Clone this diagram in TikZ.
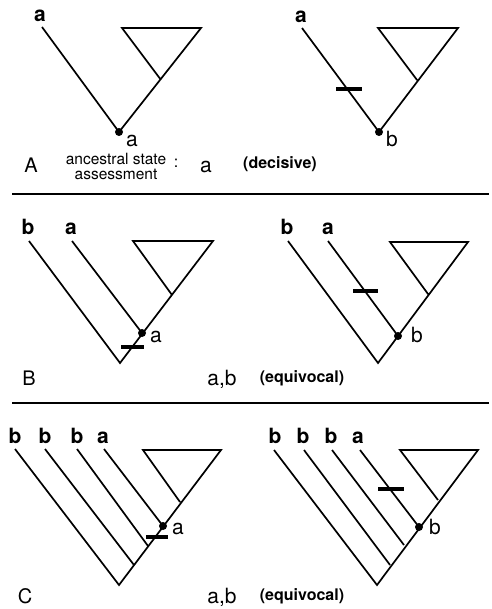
\documentclass[tikz,border=0pt]{standalone}
\usepackage{fontspec}
\setmainfont{TeX Gyre Heros}
\begin{document}
\begin{tikzpicture}[x=1pt,y=-1pt,
  br/.style={line width=1.7pt},
  tick/.style={line width=4pt},
  sep/.style={line width=2pt},
  dot/.style={circle,fill=black,inner sep=0pt,minimum size=8pt},
  leaf/.style={font=\fontsize{21}{21}\selectfont\bfseries,anchor=base,inner sep=0pt},
  st/.style={font=\fontsize{21}{21}\selectfont,anchor=base west,inner sep=0pt},
  panel/.style={font=\fontsize{20}{20}\selectfont,anchor=base,inner sep=0pt},
  res/.style={font=\fontsize{21}{21}\selectfont,anchor=base,inner sep=0pt},
  asm/.style={font=\fontsize{16}{16}\selectfont,anchor=base,inner sep=0pt},
  par/.style={font=\fontsize{16}{16}\selectfont\bfseries,anchor=base,inner sep=0pt}]
\useasboundingbox (0,0) rectangle (491,609);

% ---------------- Panel A left
\coordinate (aL1) at (42,27);
\coordinate (aR1) at (119,132);
\coordinate (aT1) at (122,28);
\coordinate (aU1) at (201,28);
\coordinate (aJ1) at (161,80);
\draw[br] (aL1) -- (aR1) -- (aU1) -- (aT1) -- (aJ1);
\node[dot] (aD1) at (aR1) {};
\node[leaf] (aLa1) at (40,22) {a};
\node[st] (aS1) at (126,147) {a};

% ---------------- Panel A right
\coordinate (aL2) at (302,28);
\coordinate (aR2) at (379,132);
\coordinate (aT2) at (378,28);
\coordinate (aU2) at (458,28);
\coordinate (aJ2) at (417,80);
\draw[br] (aL2) -- (aR2) -- (aU2) -- (aT2) -- (aJ2);
\coordinate (aK2a) at (336,89);
\coordinate (aK2b) at (362,89);
\draw[tick] (aK2a) -- (aK2b);
\node[dot] (aD2) at (aR2) {};
\node[leaf] (aLa2) at (301,23) {a};
\node[st] (aS2) at (386,147) {b};

% text line A
\node[panel] (pA) at (31,173) {A};
\node[font=\fontsize{15.5}{15}\selectfont,align=center,inner sep=0pt,anchor=center] (t1) at (116,166) {ancestral state\\assessment};
\node[asm] (colon) at (176,168) {:};
\node[res] (rA) at (206,173) {a};
\node[par] (qA) at (280,169) {(decisive)};

\coordinate (s1a) at (12,194);
\coordinate (s1b) at (489,194);
\draw[sep] (s1a) -- (s1b);

% ---------------- Panel B left
\coordinate (bB1) at (29,241);
\coordinate (bA1) at (72,241);
\coordinate (bR1) at (120,363);
\coordinate (bN1) at (142,333);
\coordinate (bT1) at (133,241);
\coordinate (bU1) at (213,241);
\coordinate (bJ1) at (172,295);
\draw[br] (bB1) -- (bR1) -- (bU1) -- (bT1) -- (bJ1);
\draw[br] (bA1) -- (bN1);
\coordinate (bK1a) at (121,347);
\coordinate (bK1b) at (144,347);
\draw[tick] (bK1a) -- (bK1b);
\node[dot] (bD1) at (bN1) {};
\node[leaf] (bLb1) at (28,235) {b};
\node[leaf] (bLa1) at (71,235) {a};
\node[st] (bS1) at (150,342) {a};

% ---------------- Panel B right
\coordinate (bB2) at (288,241);
\coordinate (bA2) at (328,241);
\coordinate (bR2) at (378,363);
\coordinate (bN2) at (398,336);
\coordinate (bT2) at (390,242);
\coordinate (bU2) at (468,242);
\coordinate (bJ2) at (428,294);
\draw[br] (bB2) -- (bR2) -- (bU2) -- (bT2) -- (bJ2);
\draw[br] (bA2) -- (bN2);
\coordinate (bK2a) at (353,291);
\coordinate (bK2b) at (378,291);
\draw[tick] (bK2a) -- (bK2b);
\node[dot] (bD2) at (bN2) {};
\node[leaf] (bLb2) at (287,235) {b};
\node[leaf] (bLa2) at (328,235) {a};
\node[st] (bS2) at (411,342) {b};

% text line B
\node[panel] (pB) at (29,385) {B};
\node[res] (rB) at (222,385) {a,b};
\node[par] (qB) at (302,382) {(equivocal)};

\coordinate (s2a) at (12,403);
\coordinate (s2b) at (489,403);
\draw[sep] (s2a) -- (s2b);

% ---------------- Panel C left
\coordinate (cB1) at (15,449);
\coordinate (cB2) at (45,449);
\coordinate (cB3) at (77,449);
\coordinate (cA1) at (104,449);
\coordinate (cR1) at (119,585);
\coordinate (cN2) at (134,565);
\coordinate (cN3) at (148,546);
\coordinate (cN4) at (163,526);
\coordinate (cT1) at (143,450);
\coordinate (cU1) at (221,450);
\coordinate (cJ1) at (180,502);
\draw[br] (cB1) -- (cR1) -- (cU1) -- (cT1) -- (cJ1);
\draw[br] (cB2) -- (cN2);
\draw[br] (cB3) -- (cN3);
\draw[br] (cA1) -- (cN4);
\coordinate (cK1a) at (146,537);
\coordinate (cK1b) at (168,537);
\draw[tick] (cK1a) -- (cK1b);
\node[dot] (cD1) at (cN4) {};
\node[leaf] (cLb1) at (15,443) {b};
\node[leaf] (cLb2) at (45,443) {b};
\node[leaf] (cLb3) at (77,443) {b};
\node[leaf] (cLa1) at (103,443) {a};
\node[st] (cS1) at (172,534) {a};

% ---------------- Panel C right
\coordinate (dB1) at (274,450);
\coordinate (dB2) at (304,450);
\coordinate (dB3) at (332,450);
\coordinate (dA1) at (360,450);
\coordinate (dR1) at (377,585);
\coordinate (dN2) at (390,565);
\coordinate (dN3) at (404,545);
\coordinate (dN4) at (419,527);
\coordinate (dT1) at (400,450);
\coordinate (dU1) at (478,450);
\coordinate (dJ1) at (438,500);
\draw[br] (dB1) -- (dR1) -- (dU1) -- (dT1) -- (dJ1);
\draw[br] (dB2) -- (dN2);
\draw[br] (dB3) -- (dN3);
\draw[br] (dA1) -- (dN4);
\coordinate (dK1a) at (378,489);
\coordinate (dK1b) at (404,489);
\draw[tick] (dK1a) -- (dK1b);
\node[dot] (dD1) at (dN4) {};
\node[leaf] (dLb1) at (275,443) {b};
\node[leaf] (dLb2) at (303,443) {b};
\node[leaf] (dLb3) at (331,443) {b};
\node[leaf] (dLa1) at (358,443) {a};
\node[st] (dS1) at (429,534) {b};

% text line C
\node[panel] (pC) at (25,603) {C};
\node[res] (rC) at (222,603) {a,b};
\node[par] (qC) at (302,600) {(equivocal)};
\end{tikzpicture}
\end{document}
